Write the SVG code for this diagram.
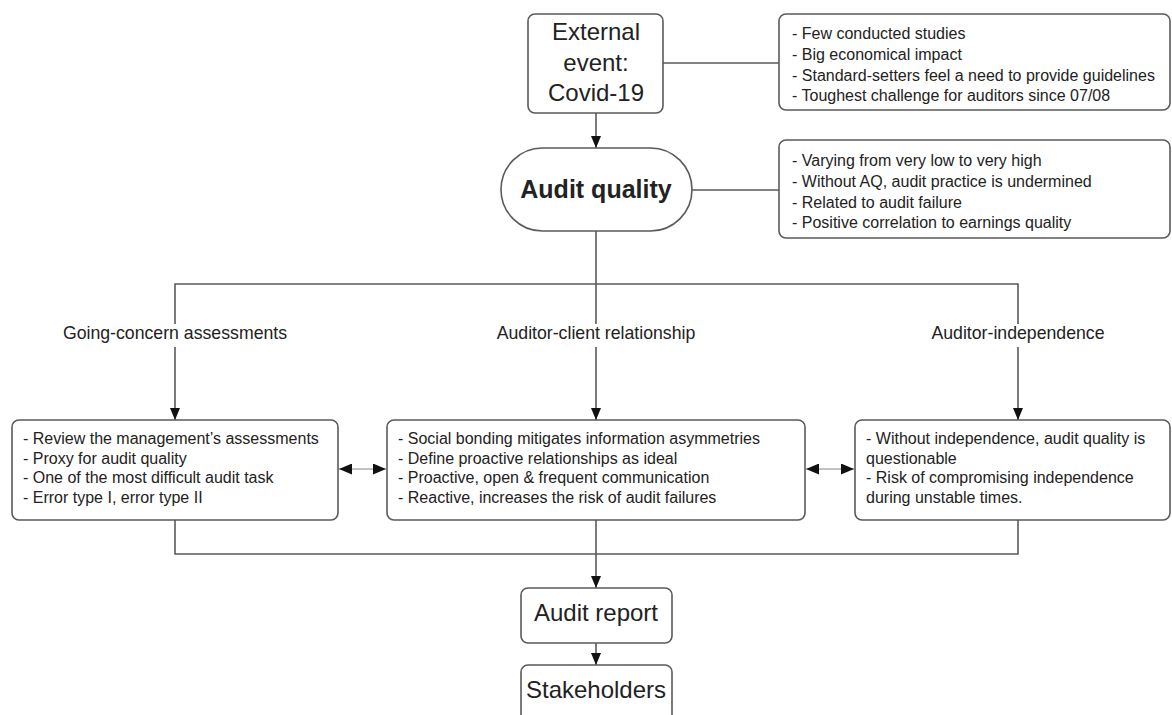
<svg xmlns="http://www.w3.org/2000/svg" width="1172" height="715" viewBox="0 0 1172 715">
<defs>
<marker id="arr" viewBox="0 0 13 11" refX="13" refY="5.5" markerWidth="13" markerHeight="11" markerUnits="userSpaceOnUse" orient="auto-start-reverse">
<path d="M0,0 L13,5.5 L0,11 Z" fill="#111"/>
</marker>
<marker id="arrL" viewBox="0 0 12 10" refX="12" refY="5" markerWidth="12" markerHeight="10" markerUnits="userSpaceOnUse" orient="auto-start-reverse">
<path d="M0,0 L12,5 L0,10 Z" fill="#111"/>
</marker>
</defs>
<style>
.box{fill:#fff;stroke:#5a5a5a;stroke-width:1.6}
.ln{fill:none;stroke:#5a5a5a;stroke-width:1.6}
.thin{fill:none;stroke:#888;stroke-width:1.2}
.t{font-family:"Liberation Sans",Arial,sans-serif;fill:#222}
.s{font-size:16px}
.big{font-size:24px;text-anchor:middle}
.lab{font-size:17.7px;text-anchor:middle}
</style>
<rect width="1172" height="715" fill="#fff"/>
<g id="connectors">
<line class="ln" x1="663" y1="63" x2="779" y2="63"/>
<line class="ln" x1="692" y1="190" x2="779" y2="190"/>
<line class="ln" x1="596" y1="113" x2="596" y2="148" marker-end="url(#arrL)"/>
<line class="ln" x1="596" y1="231" x2="596" y2="324"/>
<polyline class="ln" points="175,324 175,284 1018,284 1018,324"/>
<line class="ln" x1="175" y1="347" x2="175" y2="420" marker-end="url(#arrL)"/>
<line class="ln" x1="596" y1="347" x2="596" y2="420" marker-end="url(#arrL)"/>
<line class="ln" x1="1018" y1="347" x2="1018" y2="420" marker-end="url(#arrL)"/>
<line class="thin" x1="339" y1="469" x2="386" y2="469" marker-start="url(#arr)" marker-end="url(#arr)"/>
<line class="thin" x1="806" y1="469" x2="854" y2="469" marker-start="url(#arr)" marker-end="url(#arr)"/>
<polyline class="ln" points="175,520 175,554 1018,554 1018,520"/>
<line class="ln" x1="596" y1="520" x2="596" y2="588" marker-end="url(#arrL)"/>
<line class="ln" x1="596" y1="643" x2="596" y2="665" marker-end="url(#arrL)"/>
</g>
<g id="labels">
<text class="t lab" x="175" y="339">Going-concern assessments</text>
<text class="t lab" x="596" y="339">Auditor-client relationship</text>
<text class="t lab" x="1018" y="339">Auditor-independence</text>
</g>
<g id="external-event">
<rect class="box" x="528" y="14" width="135" height="99" rx="7"/>
<text class="t big" x="596" y="40">External</text>
<text class="t big" x="596" y="71">event:</text>
<text class="t big" x="596" y="101">Covid-19</text>
</g>
<g id="external-notes">
<rect class="box" x="779" y="14" width="391" height="96" rx="7"/>
<text class="t s" x="792" y="39">- Few conducted studies</text>
<text class="t s" x="792" y="60">- Big economical impact</text>
<text class="t s" x="792" y="81">- Standard-setters feel a need to provide guidelines</text>
<text class="t s" x="792" y="101">- Toughest challenge for auditors since 07/08</text>
</g>
<g id="audit-quality">
<rect class="box" x="501" y="148" width="191" height="83" rx="41.5"/>
<text class="t" x="596" y="198" font-size="25" font-weight="bold" text-anchor="middle">Audit quality</text>
</g>
<g id="audit-quality-notes">
<rect class="box" x="779" y="140" width="391" height="98" rx="7"/>
<text class="t s" x="792" y="166">- Varying from very low to very high</text>
<text class="t s" x="792" y="187">- Without AQ, audit practice is undermined</text>
<text class="t s" x="792" y="208">- Related to audit failure</text>
<text class="t s" x="792" y="228">- Positive correlation to earnings quality</text>
</g>
<g id="going-concern">
<rect class="box" x="12" y="420" width="326" height="100" rx="7"/>
<text class="t s" x="23" y="444">- Review the management’s assessments</text>
<text class="t s" x="23" y="464">- Proxy for audit quality</text>
<text class="t s" x="23" y="483">- One of the most difficult audit task</text>
<text class="t s" x="23" y="503">- Error type I, error type II</text>
</g>
<g id="auditor-client">
<rect class="box" x="387" y="420" width="418" height="100" rx="7"/>
<text class="t s" x="398" y="444">- Social bonding mitigates information asymmetries</text>
<text class="t s" x="398" y="464">- Define proactive relationships as ideal</text>
<text class="t s" x="398" y="483">- Proactive, open &amp; frequent communication</text>
<text class="t s" x="398" y="503">- Reactive, increases the risk of audit failures</text>
</g>
<g id="auditor-independence">
<rect class="box" x="855" y="420" width="315" height="100" rx="7"/>
<text class="t s" x="866" y="444">- Without independence, audit quality is</text>
<text class="t s" x="866" y="464">questionable</text>
<text class="t s" x="866" y="483">- Risk of compromising independence</text>
<text class="t s" x="866" y="503">during unstable times.</text>
</g>
<g id="audit-report">
<rect class="box" x="521" y="588" width="151" height="55" rx="7"/>
<text class="t big" x="596" y="621">Audit report</text>
</g>
<g id="stakeholders">
<rect class="box" x="521" y="665" width="151" height="60" rx="7"/>
<text class="t big" x="596" y="698">Stakeholders</text>
</g>
</svg>
